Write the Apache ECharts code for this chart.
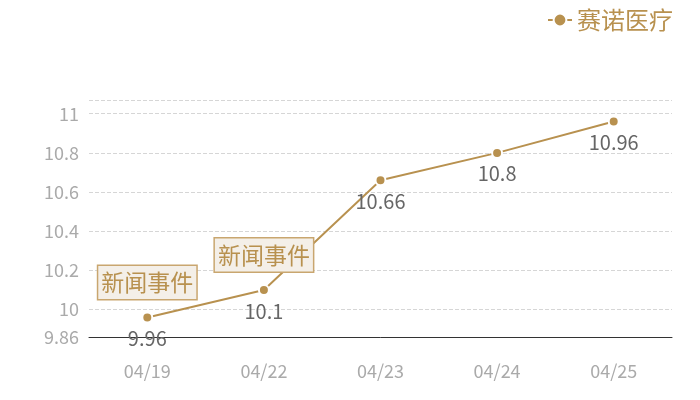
<!DOCTYPE html>
<html>
<head>
<meta charset="utf-8">
<script src="https://cdn.jsdelivr.net/npm/echarts@6/dist/echarts.min.js"></script>
<style>
  html, body { margin: 0; padding: 0; background: #fff; }
  #main { width: 700px; height: 400px; }
</style>
</head>
<body>
<div id="main"></div>
<script>
// 数据
const dates = ['04/19', '04/22', '04/23', '04/24', '04/25'];
const prices = [9.96, 10.1, 10.66, 10.8, 10.96];
const eventDates = ['04/19', '04/22']; // 新闻事件
const yMin = 9.86;
const yMax = 11.07;

const gold = '#b8914f';
const font = '"Noto Sans CJK SC", "Noto Sans", sans-serif';

const chart = echarts.init(document.getElementById('main'));

chart.setOption({
    textStyle: { fontFamily: font },
    legend: {
        data: ['赛诺医疗'],
        right: 22,
        top: 3,
        itemWidth: 24,
        itemHeight: 16,
        itemGap: 6,
        textStyle: { color: gold, fontSize: 24, fontFamily: font },
    },
    grid: { left: 89, right: 28, top: 100, bottom: 63 },
    xAxis: {
        type: 'category',
        data: dates,
        axisLine: { lineStyle: { color: '#333' } },
        axisTick: { show: false },
        axisLabel: { color: '#aaa', fontSize: 18, margin: 25, fontFamily: font },
    },
    yAxis: {
        type: 'value',
        min: yMin,
        max: yMax,
        axisLine: { show: false },
        axisTick: { show: false },
        axisLabel: { color: '#aaa', fontSize: 18, margin: 10, showMaxLabel: false, fontFamily: font },
        splitLine: { lineStyle: { type: 'dashed', color: '#d6d6d6' } },
    },
    series: [
        {
            name: '赛诺医疗',
            type: 'line',
            data: prices,
            symbol: 'circle',
            symbolSize: 10,
            lineStyle: { color: gold, width: 2 },
            itemStyle: { color: gold, borderColor: '#fff', borderWidth: 2 },
            label: {
                show: true,
                position: 'bottom',
                distance: 5,
                color: '#666',
                fontSize: 20,
                fontFamily: font,
            },
            markPoint: {
                symbol: 'circle',
                symbolSize: 0,
                label: {
                    show: true,
                    formatter: '新闻事件',
                    position: 'inside',
                    offset: [0, -35],
                    color: gold,
                    fontSize: 23,
                    fontFamily: font,
                    backgroundColor: '#f4efe8',
                    borderColor: '#c9a66f',
                    borderWidth: 1.5,
                    padding: [5, 3],
                },
                data: eventDates.map((d) => ({
                    coord: [d, prices[dates.indexOf(d)]],
                })),
            },
        },
    ],
});
</script>
</body>
</html>
